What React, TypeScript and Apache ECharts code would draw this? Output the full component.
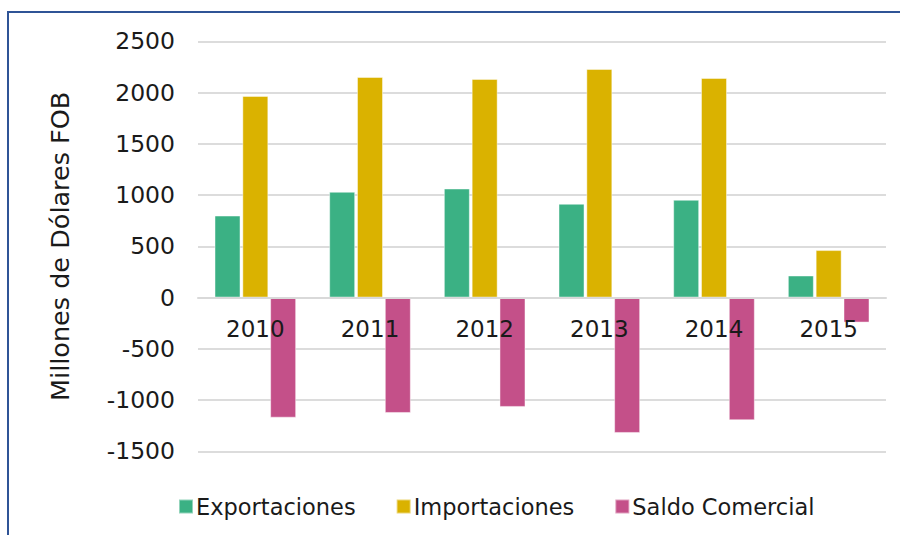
import React, { useEffect, useRef } from "react";
import * as echarts from "echarts";

const categories = ["2010", "2011", "2012", "2013", "2014", "2015"];
const exportaciones = [800, 1032, 1064, 915, 954, 215];
const importaciones = [1967, 2152, 2133, 2230, 2142, 463];
const saldoComercial = [-1172, -1126, -1067, -1321, -1197, -244];
const seriesNames = ["Exportaciones", "Importaciones", "Saldo Comercial"];
const yAxisName = "Millones de Dólares FOB";
const yMin = -1500;
const yMax = 2500;
const yStep = 500;

const FONT = "DejaVu Sans";
const TEXT = "#1a1a1a";

const GRID_TOP = 41.3;
const GRID_BOTTOM = 83.7;
const CHART_H = 535;

export default function App() {
  const ref = useRef<HTMLDivElement>(null);
  useEffect(() => {
    if (!ref.current) return;
    const chart = echarts.init(ref.current, undefined, { renderer: "svg" });
    const gridH = CHART_H - GRID_TOP - GRID_BOTTOM;
    // move the category axis (line + labels) up to the zero line
    const zeroOffset = -(gridH * (0 - yMin)) / (yMax - yMin);
    const barStyle = (color: string) => ({
      color,
      borderColor: "rgba(255,255,255,0.45)",
      borderWidth: 1,
    });
    chart.setOption({
      animation: false,
      backgroundColor: "#ffffff",
      textStyle: { fontFamily: FONT },
      graphic: [
        {
          type: "rect",
          shape: { x: 8, y: 12, width: 1000, height: 600 },
          style: { fill: "none", stroke: "#2F5496", lineWidth: 2 },
          silent: true,
          z: 100,
        },
      ],
      grid: { left: 198, right: 14, top: GRID_TOP, bottom: GRID_BOTTOM, containLabel: false },
      legend: {
        left: 173,
        top: 490,
        icon: "rect",
        itemWidth: 14,
        itemHeight: 14,
        itemGap: 40,
        textStyle: { fontFamily: FONT, fontSize: 22.5, color: TEXT, padding: [0, 0, 0, -2] },
        data: seriesNames,
      },
      xAxis: {
        type: "category",
        data: categories,
        z: 5,
        offset: zeroOffset,
        axisLine: { onZero: false, lineStyle: { color: "#d9d9d9", width: 2 } },
        axisTick: { show: false },
        axisLabel: { fontFamily: FONT, fontSize: 23, color: TEXT, margin: 20 },
      },
      yAxis: {
        type: "value",
        min: yMin,
        max: yMax,
        interval: yStep,
        name: yAxisName,
        nameLocation: "middle",
        nameGap: 125,
        nameTextStyle: { fontFamily: FONT, fontSize: 25.5, color: TEXT },
        axisLine: { show: false },
        axisTick: { show: false },
        axisLabel: {
          fontFamily: FONT,
          fontSize: 23.5,
          color: TEXT,
          margin: 23,
          formatter: (v: number) => String(v),
        },
        splitLine: { lineStyle: { color: "#dcdcdc", width: 2 } },
      },
      series: [
        {
          name: seriesNames[0],
          type: "bar",
          data: exportaciones,
          barWidth: 26,
          barGap: "7%",
          itemStyle: barStyle("#3BB184"),
        },
        {
          name: seriesNames[1],
          type: "bar",
          data: importaciones,
          barWidth: 26,
          barGap: "7%",
          itemStyle: barStyle("#DAB200"),
        },
        {
          name: seriesNames[2],
          type: "bar",
          data: saldoComercial,
          barWidth: 26,
          barGap: "7%",
          itemStyle: barStyle("#C45089"),
        },
      ],
    });
    return () => chart.dispose();
  }, []);
  return (
    <div
      ref={ref}
      style={{ position: "absolute", left: 0, top: 0, width: 900, height: 535 }}
    />
  );
}
